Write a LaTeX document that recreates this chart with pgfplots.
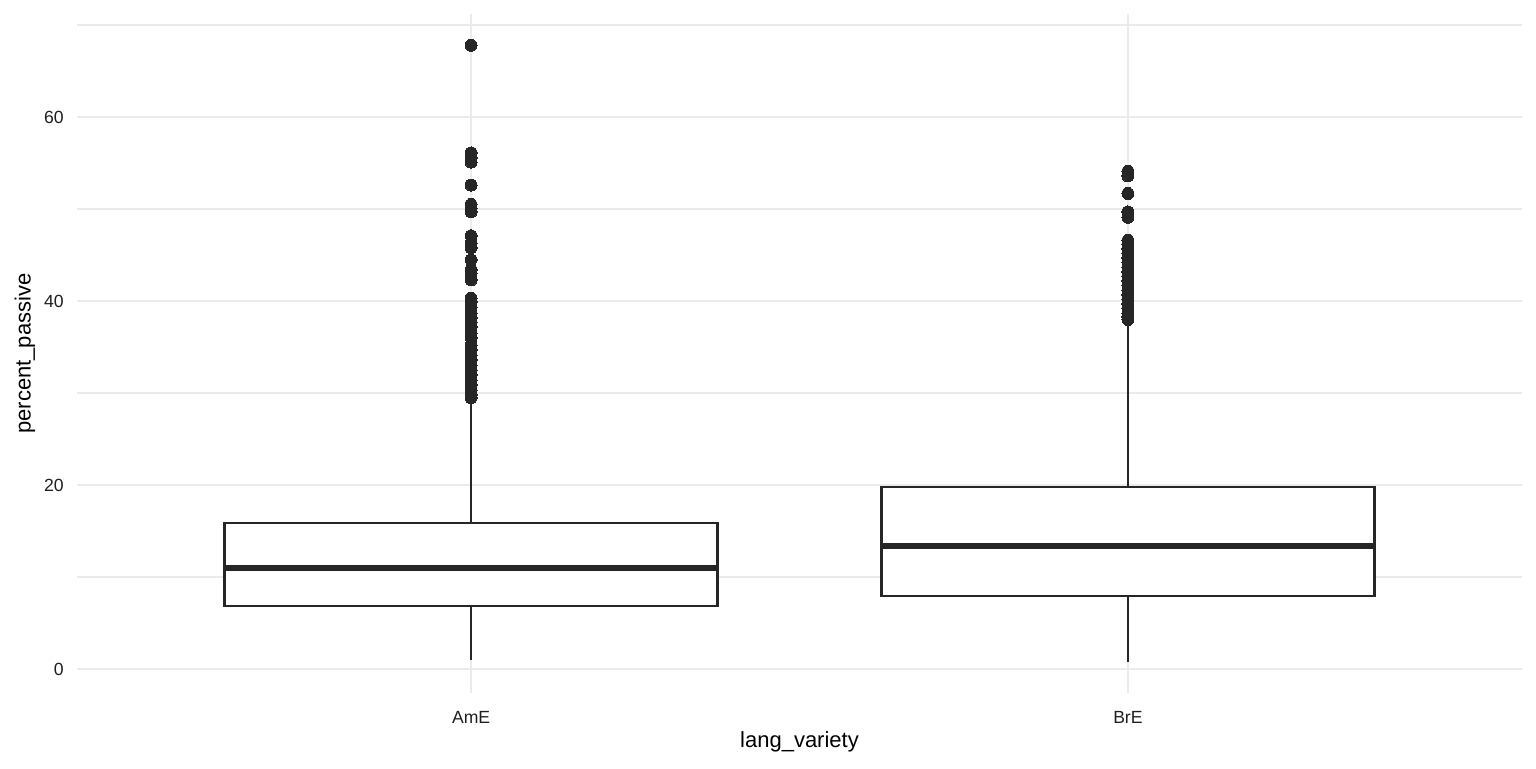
\documentclass[border=0pt]{standalone}
\usepackage{pgfplots}
\usepackage{pgfplotstable}
\pgfplotsset{compat=1.18}
\usepackage{fontspec}
\setmainfont{Liberation Sans}
\definecolor{grey20}{HTML}{262626}
\definecolor{grey30}{HTML}{1E1E1E}
\definecolor{grey92}{HTML}{EBEBEB}
\pgfplotstableread[row sep=\\]{y\\ 67.8\\ 56.1\\ 55.6\\ 55.1\\ 52.6\\ 50.5\\ 50.1\\ 49.7\\ 47.1\\ 46.3\\ 45.8\\ 44.5\\ 43.4\\ 43.0\\ 42.3\\ 40.3\\ 39.9\\ 39.3\\ 38.7\\ 38.2\\ 37.7\\ 37.2\\ 36.5\\ 36.0\\ 35.2\\ 34.7\\ 34.1\\ 33.6\\ 33.0\\ 32.5\\ 32.0\\ 31.4\\ 30.9\\ 30.3\\ 29.8\\ 29.5\\}\outAmE
\pgfplotstableread[row sep=\\]{y\\ 54.1\\ 53.6\\ 51.7\\ 49.7\\ 49.1\\ 46.6\\ 46.2\\ 45.7\\ 45.2\\ 44.7\\ 44.2\\ 43.7\\ 43.2\\ 42.7\\ 42.2\\ 41.7\\ 41.2\\ 40.7\\ 40.2\\ 39.7\\ 39.2\\ 38.7\\ 38.3\\ 38.0\\}\outBrE
\begin{document}
\begin{tikzpicture}
\begin{axis}[
  scale only axis,
  width=722.5pt, height=339.5pt,
  xmin=0.4, xmax=2.6,
  ymin=-2.6, ymax=71.2,
  xtick={1,2}, xticklabels={AmE,BrE},
  ytick={0,20,40,60},
  minor ytick={10,30,50,70},
  xmajorgrids, ymajorgrids, yminorgrids,
  major grid style={draw=grey92, line width=1.2pt},
  minor grid style={draw=grey92, line width=0.6pt},
  axis line style={draw=none},
  tick style={draw=none},
  major tick length=0pt, minor tick length=0pt,
  /pgf/number format/assume math mode=true,
  ticklabel style={font=\fontsize{8.8}{10}\selectfont, text=grey30, inner sep=0pt},
  yticklabel style={anchor=east, xshift=-6.5pt},
  xticklabel style={anchor=north, yshift=-9pt},
  xlabel={lang\_variety}, ylabel={percent\_passive},
  label style={font=\fontsize{11}{13}\selectfont, text=black},
  xlabel style={at={(axis description cs:0.5,-0.072)}, anchor=center},
  ylabel style={at={(axis description cs:-0.036,0.5)}, anchor=center},
  clip=false,
]
% AmE
\addplot[draw=grey20, line width=1.3pt] coordinates {(1,1.0) (1,6.85)};
\addplot[draw=grey20, line width=1.3pt] coordinates {(1,15.87) (1,29.2)};
\addplot[draw=grey20, fill=white, line width=1.3pt] coordinates {(0.625,6.85) (1.375,6.85) (1.375,15.87) (0.625,15.87)} -- cycle;
\addplot[draw=grey20, line width=2.6pt] coordinates {(0.625,10.98) (1.375,10.98)};
\addplot[only marks, mark=*, mark size=3pt, mark options={fill=grey20, draw=grey20, line width=0pt}] table[x expr=1, y=y] {\outAmE};
% BrE
\addplot[draw=grey20, line width=1.3pt] coordinates {(2,0.76) (2,7.93)};
\addplot[draw=grey20, line width=1.3pt] coordinates {(2,19.78) (2,37.8)};
\addplot[draw=grey20, fill=white, line width=1.3pt] coordinates {(1.625,7.93) (2.375,7.93) (2.375,19.78) (1.625,19.78)} -- cycle;
\addplot[draw=grey20, line width=2.6pt] coordinates {(1.625,13.37) (2.375,13.37)};
\addplot[only marks, mark=*, mark size=3pt, mark options={fill=grey20, draw=grey20, line width=0pt}] table[x expr=2, y=y] {\outBrE};
\end{axis}
\path[use as bounding box] (-38.5pt,-37.5pt) rectangle ++(768pt,384pt);
\end{tikzpicture}
\end{document}
